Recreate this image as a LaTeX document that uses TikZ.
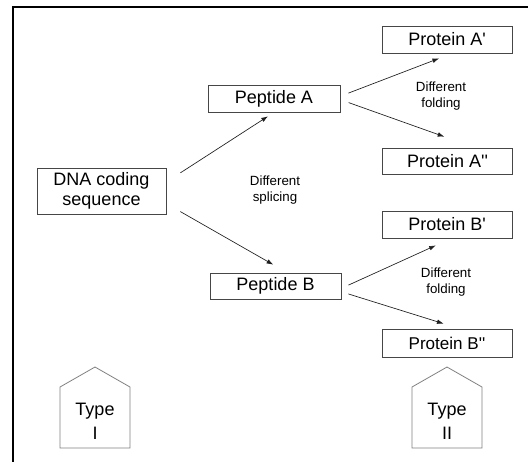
\documentclass[tikz,border=0pt]{standalone}
\usepackage{fontspec}
\newfontfamily\arial{Liberation Sans}
\usetikzlibrary{arrows.meta}

\begin{document}
\begin{tikzpicture}[x=0.75pt,y=0.75pt,yscale=-1,xscale=1,
    box/.style={draw={rgb,255:red,70;green,70;blue,70},line width=0.6pt,inner sep=0pt,
        minimum width=97.5pt,minimum height=20.25pt,align=center,
        font=\arial\fontsize{13.5}{15}\selectfont},
    note/.style={inner sep=0pt,align=center,font=\arial\fontsize{10}{12}\selectfont},
    arr/.style={draw={rgb,255:red,30;green,30;blue,30},line width=0.5pt,
        -{Latex[length=5pt,width=3.5pt]}},
    house/.style={draw={rgb,255:red,128;green,128;blue,128},line width=0.6pt}]
        \useasboundingbox (0,0) rectangle (528,462);
        %Frame
        \draw [line width=1.5pt]  (528,7) -- (13,7) -- (13,462) ;

        % Boxes
        \node [box,minimum width=96.75pt,minimum height=34.5pt,font=\arial\fontsize{13.5}{14.5}\selectfont] (dna) at (101.5,191) {DNA coding\\sequence};
        \node [box,minimum width=99pt] (pepA) at (274,98.5) {Peptide A};
        \node [box,minimum width=98.25pt,minimum height=19.5pt] (pepB) at (275.5,286) {Peptide B};
        \node [box] (protA1) at (447,39.5) {Protein A'};
        \node [box,minimum height=19.5pt] (protA2) at (447.5,161) {Protein A''};
        \node [box] (protB1) at (447,224.5) {Protein B'};
        \node [box,minimum height=21pt,font=\arial\fontsize{12.8}{15}\selectfont] (protB2) at (447,343) {Protein B''};

        % Splicing
        \draw [arr,shorten <=12.5pt,shorten >=5.4pt]  (dna.8) -- (pepA.south) ;
        \draw [arr,shorten <=12pt,shorten >=12pt]  (dna.-11) -- (pepB.49) ;
        % Folding
        \draw [arr,shorten <=6.4pt,shorten >=10.4pt]  (pepA.2) -- (protA1.-70) ;
        \draw [arr,shorten <=6.5pt,shorten >=24.4pt]  (pepA.-1) -- (protA2.26) ;
        \draw [arr,shorten <=5.8pt,shorten >=12.7pt]  (pepB.-2) -- (protB1.-73) ;
        \draw [arr,shorten <=5.5pt,shorten >=12.5pt]  (pepB.-5) -- (protB2.49) ;

        % Text Node
        \node [note] (splice) at (275,190) {Different\\splicing};
        % Text Node
        \node [note] (foldA) at (441,96) {Different\\folding};
        % Text Node
        \node [note] (foldB) at (446,282) {Different\\folding};

        %Shape: Houses
        \draw [house]  (60,448) -- (60,387) -- (95,367) -- (130,387) -- (130,448) -- cycle ;
        \draw [house]  (412,448) -- (412,387) -- (447,367) -- (482,387) -- (482,448) -- cycle ;
        \node [note,font=\arial\fontsize{13.5}{18}\selectfont] (typeI) at (95,421) {Type\\I};
        \node [note,font=\arial\fontsize{13.5}{18}\selectfont] (typeII) at (447,421) {Type\\II};
\end{tikzpicture}
\end{document}
